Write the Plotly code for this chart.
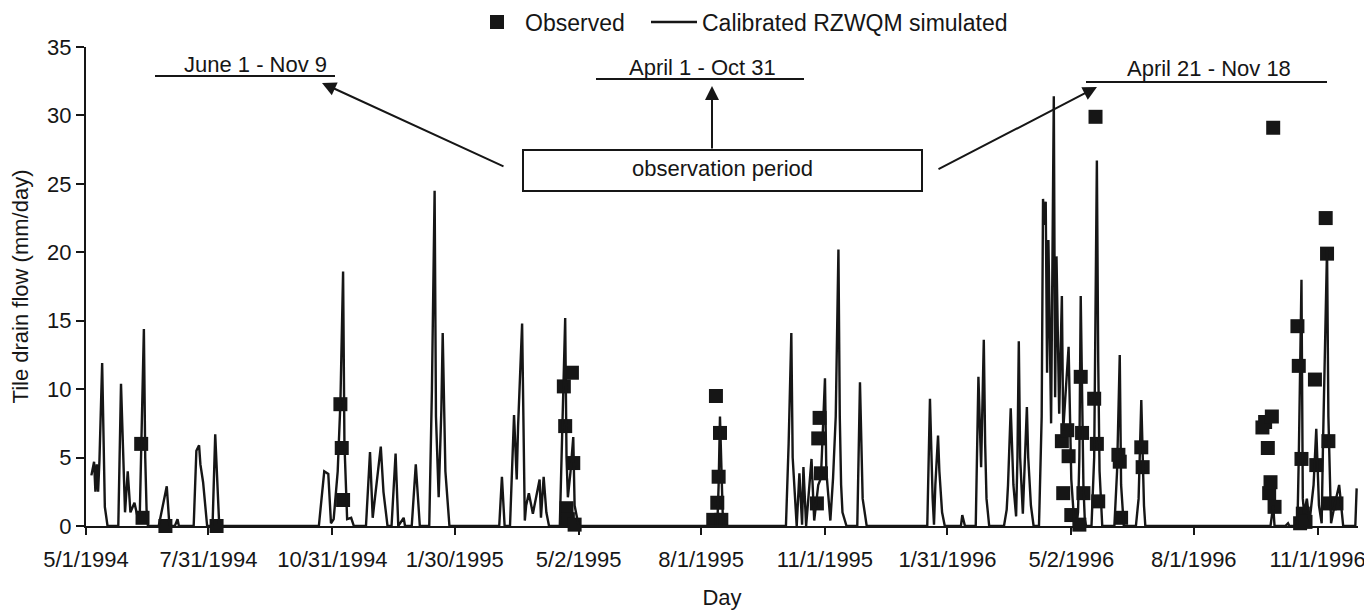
import pandas as pd
import plotly.graph_objects as go

# ---------------- data (day offsets from 5/1/1994) ----------------
START = "1994-05-01"

sim_day = [4, 6, 7, 8, 9, 10, 12, 13, 14, 16,
           24, 26, 28, 29, 31, 33, 36, 38, 40, 41, 43, 44, 45, 46,
           54, 60, 62, 66, 68, 69,
           80, 82, 84, 85, 87, 90,
           94, 96, 99,
           173, 177, 180, 182, 184, 187, 189, 191, 192, 194, 197, 199,
           208, 211, 213, 216, 219, 221, 224,
           227, 230, 232, 236, 237,
           242, 245, 248,
           255, 257, 259, 260, 262, 264, 265, 267, 270,
           307, 309, 311,
           315, 318, 320, 321, 324, 326, 327, 329, 332, 334, 337, 338, 340, 342, 344,
           352, 354, 356, 357, 358, 360, 362, 363, 366,
           469, 470, 471, 472, 473, 474,
           520, 522, 524, 525, 528, 530, 532, 533, 535, 539, 541, 544, 546, 549, 550,
           553, 555, 557, 558, 559, 560, 561, 562, 565,
           573, 575, 577, 580,
           625, 627, 629, 630, 631, 633, 634, 636, 638,
           650, 651, 653,
           661, 663, 665, 667, 668, 669, 671,
           682, 684, 685, 687, 689, 691, 692, 693, 694, 696, 697, 699, 700, 702, 704,
           708, 710, 711, 712, 713, 714, 715, 717, 719, 720, 721, 723, 725, 726, 730,
           732, 734, 736, 737, 738, 739, 741, 742, 743,
           747, 749, 750, 751, 752, 753, 755,
           764, 766, 768, 769, 771,
           780, 782, 784, 786, 787,
           880, 882, 883, 891, 893, 894,
           900, 901, 903, 904, 905, 907, 909, 912, 914, 916, 918, 919, 922, 923, 925,
           928, 930, 931, 933, 934, 943, 944]
sim_flow = [3.7, 4.7, 2.5, 4.5, 2.5, 4.8, 11.9, 4.6, 1.4, 0,
            0, 10.4, 4.3, 1.0, 4.0, 1.0, 1.7, 0.8, 1.0, 6.0, 14.4, 5.0, 1.2, 0,
            0, 2.9, 0, 0, 0.5, 0,
            0, 5.5, 5.9, 4.5, 3.2, 0,
            0, 6.7, 0,
            0, 4.0, 3.8, 0.2, 0.5, 4.0, 9.0, 18.6, 6.0, 0.5, 0.6, 0,
            0, 5.4, 0.6, 3.4, 5.8, 2.5, 0,
            0, 5.3, 0, 0.6, 0,
            0, 4.5, 0,
            0, 10.0, 24.5, 8.0, 2.1, 8.5, 14.1, 4.0, 0,
            0, 3.6, 0,
            0, 8.1, 3.4, 7.3, 14.8, 0.4, 1.5, 2.4, 0.9, 2.0, 3.4, 0.6, 3.6, 1.0, 0,
            0, 8.0, 15.2, 5.0, 2.1, 4.0, 6.5, 1.5, 0,
            0, 3.0, 8.0, 4.0, 1.0, 0,
            0, 6.0, 14.1, 5.0, 0, 3.85, 0.1, 4.3, 0, 4.9, 0.4, 3.0, 3.5, 10.8, 4.0,
            0.4, 3.5, 8.0, 14.0, 20.2, 8.0, 3.0, 1.0, 0,
            0, 10.5, 2.0, 0,
            0, 9.3, 2.0, 0.1, 3.0, 6.6, 4.0, 1.0, 0,
            0, 0.8, 0,
            0, 10.9, 4.3, 13.6, 6.0, 2.0, 0,
            0, 1.2, 3.0, 8.6, 3.0, 0.7, 5.0, 13.5, 5.0, 0.9, 4.0, 8.7, 5.0, 1.5, 0,
            0, 8.0, 23.9, 22.0, 23.7, 11.2, 20.9, 7.5, 31.4, 9.4, 19.7, 8.2, 16.8, 7.0, 13.1,
            3.4, 0.5, 0.3, 1.0, 5.0, 16.8, 3.0, 0.5, 0,
            0, 5.0, 19.7, 26.7, 12.0, 4.0, 0,
            0, 4.0, 12.5, 3.0, 0,
            0, 2.0, 9.2, 1.5, 0,
            0, 1.5, 0, 0, 0.2, 0,
            0, 5.0, 18.0, 2.0, 0.9, 2.0, 0.3, 3.0, 7.1, 1.5, 0.2, 6.0, 20.3, 8.0, 0.2,
            1.7, 2.5, 3.0, 1.0, 0, 0, 2.75]

obs_day = [41, 42, 59, 97,
           189, 190, 191,
           355, 356, 357, 358, 361, 362, 363,
           458, 466, 468, 469, 470, 471, 472,
           543, 544, 545, 546,
           725, 726, 729, 730, 732, 738, 739, 740, 741, 749, 750, 751, 752,
           767, 768, 769, 784, 785,
           874, 876, 878, 879, 880, 881, 882, 883,
           900, 901, 902, 903, 904, 906, 913, 914, 921, 922, 923, 924, 929, 930]
obs_flow = [6.0, 0.6, 0.0, 0.0,
            8.9, 5.7, 1.9,
            10.2, 7.3, 1.3, 0.5, 11.2, 4.6, 0.1,
            -0.3, 0.45, 9.5, 1.7, 3.6, 6.8, 0.45,
            1.65, 6.4, 7.9, 3.85,
            6.2, 2.4, 7.0, 5.1, 0.8, 0.1, 10.9, 6.8, 2.4, 9.3, 29.9, 6.0, 1.8,
            5.2, 4.7, 0.6, 5.75, 4.3,
            7.2, 7.6, 5.7, 2.4, 3.2, 8.0, 29.1, 1.4,
            14.6, 11.7, 0.2, 4.9, 0.9, 0.3, 10.7, 4.45, 22.5, 19.9, 6.2, 1.65, 1.65, -0.5]

tick_dates = ["1994-05-01", "1994-07-31", "1994-10-31", "1995-01-30", "1995-05-02",
              "1995-08-01", "1995-11-01", "1996-01-31", "1996-05-02", "1996-08-01",
              "1996-11-01"]
tick_labels = ["5/1/1994", "7/31/1994", "10/31/1994", "1/30/1995", "5/2/1995",
               "8/1/1995", "11/1/1995", "1/31/1996", "5/2/1996", "8/1/1996",
               "11/1/1996"]

period_labels = ["June 1 - Nov 9", "April 1 - Oct 31", "April 21 - Nov 18"]
box_label = "observation period"

# ---------------- figure ----------------
start = pd.Timestamp(START)
sim_dates = start + pd.to_timedelta(sim_day, unit="D")
obs_dates = start + pd.to_timedelta(obs_day, unit="D")

OFF = 8                       # page body margin of the html page
W, H = 1372 - OFF, 612 - OFF
ML, MR, MT, MB = 86 - OFF, 14, 47 - OFF, 86
PW, PH = W - ML - MR, H - MT - MB
INK = "#161616"
FONT = "Liberation Sans, Arial, sans-serif"
FS = 22


def px(xp, yp):
    """page pixel -> paper fraction"""
    return (xp - OFF - ML) / PW, (H - MB - (yp - OFF)) / PH


fig = go.Figure()
fig.add_trace(go.Scatter(
    x=obs_dates, y=obs_flow, mode="markers", name="Observed",
    marker=dict(symbol="square", size=14, color=INK), cliponaxis=False,
    legend="legend"))
fig.add_trace(go.Scatter(
    x=sim_dates, y=sim_flow, mode="lines", name="Calibrated RZWQM simulated",
    line=dict(color=INK, width=2.4), cliponaxis=False, legend="legend2"))

shapes = []
annotations = []

for (x0, x1, yl) in [(155, 335, 76), (596, 804, 79), (1086, 1327, 82)]:
    a0, b0 = px(x0, yl)
    a1, _ = px(x1, yl)
    shapes.append(dict(type="line", xref="paper", yref="paper", x0=a0, x1=a1,
                       y0=b0, y1=b0, line=dict(color=INK, width=2)))
bx0, by0 = px(523, 191)
bx1, by1 = px(922, 150)
shapes.append(dict(type="rect", xref="paper", yref="paper", x0=bx0, x1=bx1,
                   y0=by0, y1=by1, line=dict(color=INK, width=2),
                   fillcolor="white"))

for txt, (tx, ty) in zip(period_labels, [(255, 64), (702, 67), (1209, 69)]):
    a, b = px(tx, ty)
    annotations.append(dict(text=txt, xref="paper", yref="paper", x=a, y=b,
                            xanchor="center", yanchor="middle",
                            showarrow=False, font=dict(size=FS, color=INK)))
a, b = px(722, 168)
annotations.append(dict(text=box_label, xref="paper", yref="paper", x=a, y=b,
                        xanchor="center", yanchor="middle",
                        showarrow=False, font=dict(size=FS, color=INK)))

for (hx, hy, tx, ty) in [(322, 83, 505, 167), (712, 86, 712, 150), (1097, 87, 937, 170)]:
    a, b = px(hx, hy)
    annotations.append(dict(text="", xref="paper", yref="paper", x=a, y=b,
                            showarrow=True, axref="pixel", ayref="pixel",
                            ax=tx - hx, ay=ty - hy, arrowhead=2, arrowsize=1.4,
                            arrowwidth=2, arrowcolor=INK, standoff=0))

leg_common = dict(orientation="h", xref="container", yref="container",
                  xanchor="left", y=1 - (22 - OFF) / H, yanchor="middle",
                  bgcolor="rgba(0,0,0,0)", font=dict(size=23), itemwidth=46)

fig.update_layout(
    width=W, height=H, autosize=False,
    margin=dict(l=ML, r=MR, t=MT, b=MB, pad=0),
    paper_bgcolor="white", plot_bgcolor="white",
    font=dict(family=FONT, size=FS, color=INK),
    showlegend=True,
    legend=dict(x=(469 - OFF) / W, **leg_common),
    legend2=dict(x=(646 - OFF) / W, **leg_common),
    shapes=shapes, annotations=annotations,
)
fig.update_xaxes(
    type="date", range=[START, "1996-12-01"],
    tickmode="array", tickvals=tick_dates, ticktext=tick_labels,
    ticks="outside", ticklen=7, tickwidth=2, tickcolor=INK,
    ticklabelstandoff=6,
    showline=True, linewidth=2, linecolor=INK, showgrid=False, zeroline=False,
    tickfont=dict(size=FS), title=dict(text="Day", standoff=18, font=dict(size=FS)),
    automargin=False)
fig.update_yaxes(
    range=[0, 35], dtick=5, tick0=0,
    ticks="outside", ticklen=8, tickwidth=2, tickcolor=INK,
    showline=True, linewidth=2, linecolor=INK, showgrid=False, zeroline=False,
    tickfont=dict(size=FS),
    title=dict(text="Tile drain flow (mm/day)", standoff=14, font=dict(size=FS)),
    automargin=False)

fig.write_html("out.html")
